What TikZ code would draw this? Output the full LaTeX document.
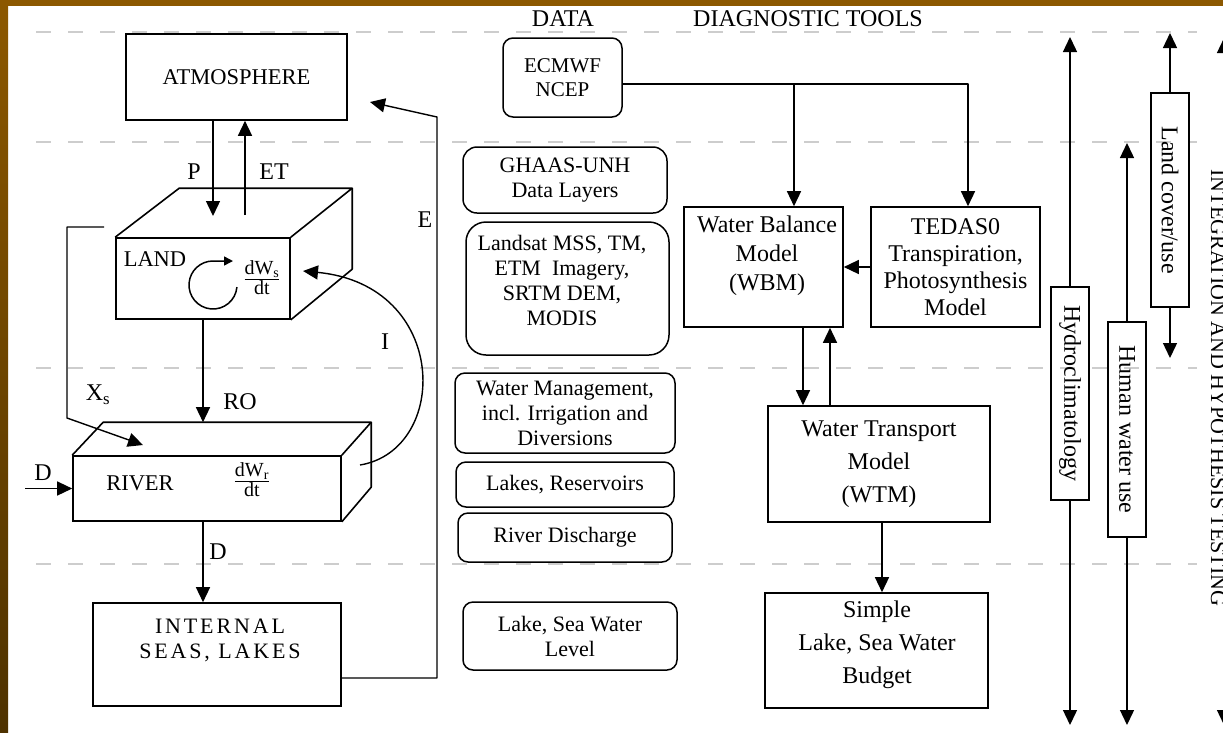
\documentclass[tikz,border=0pt]{standalone}
\usepackage{fontspec}
\setmainfont{Liberation Serif}
\newfontfamily\spacedfont[LetterSpace=13]{Liberation Serif}
\usetikzlibrary{arrows.meta,calc}
\definecolor{framebrown}{RGB}{140,88,0}
\definecolor{framedark}{RGB}{78,50,0}
\definecolor{dashgray}{RGB}{205,205,205}
\tikzset{
  ln/.style={line width=1.4pt},
  arr/.style={line width=1.4pt,-{Triangle[width=14pt,length=15pt]}},
  sarr/.style={line width=1.5pt,-{Triangle[width=9pt,length=9pt]}},
  sbox/.style={draw,line width=1.6pt,inner sep=0pt,align=center},
  rbox/.style={draw,line width=1.5pt,rounded corners=10pt,inner sep=0pt,align=center,font=\fontsize{22}{25}\selectfont},
  lbl/.style={inner sep=0pt,font=\fontsize{24}{28}\selectfont},
  head/.style={inner sep=0pt,font=\fontsize{24}{28}\selectfont},
  boxcaption/.style={inner sep=0pt,align=center,font=\fontsize{22.5}{25}\selectfont},
  dfont/.style={inner sep=0pt,align=center,font=\fontsize{24}{29}\selectfont},
  vbox/.style={draw,line width=1.6pt,inner sep=0pt,rotate=-90,minimum height=38pt,font=\fontsize{24}{28}\selectfont},
  dashline/.style={draw=dashgray,line width=1.6pt,dash pattern=on 15pt off 17pt},
  face/.style={line width=1.6pt,line join=round}
}
\begin{document}
\begin{tikzpicture}[x=1pt,y=-1pt]
\useasboundingbox (0,0) rectangle (1223,732);
\clip (0,0) rectangle (1223,732);
\fill[white] (0,0) rectangle (1223,732);
\fill[framebrown] (0,0) rectangle (1223,6);
\shade[top color=framebrown,bottom color=framedark] (0,0) rectangle (8,732);

% dashed separators
\foreach \yy in {32,142,368,564} \draw[dashline] (36,\yy) -- (1197,\yy);

% headings
\node[head] (data) at (563,19) {DATA};
\node[head] (diag) at (808,19) {DIAGNOSTIC TOOLS};

% ---------- left: water cycle ----------
\node[sbox,minimum width=221pt,minimum height=86pt,font=\fontsize{22.5}{25}\selectfont] (atm) at (236.5,77) {ATMOSPHERE};

% LAND box (3D)
\node[sbox,minimum width=174pt,minimum height=81pt] (land) at (203,278.5) {};
\draw[face] (land.north west) -- ++(64,-49) -- ++(173,0) coordinate (landbr) -- (land.north east);
\draw[face] (landbr) -- ++(0,81) -- (land.south east);
\node[boxcaption] (landlbl) at (155,259) {LAND};
\node[inner sep=0pt,align=center,font=\fontsize{20}{20}\selectfont] (dws) at (262,278) {\underline{dW\textsubscript{s}}\\dt};
\draw[sarr] (213,285) ++(5:24) arc[start angle=5,end angle=270,radius=24] -- ++(20,0);

% RIVER box (3D)
\node[sbox,minimum width=268pt,minimum height=65pt] (river) at (207,488.5) {};
\draw[face] (river.north west) -- ++(31,-33) -- ++(268,0) coordinate (riverbr) -- (river.north east);
\draw[face] (riverbr) -- ++(0,65) -- (river.south east);
\node[boxcaption] (riverlbl) at (140,483) {RIVER};
\node[inner sep=0pt,align=center,font=\fontsize{20}{20}\selectfont] (dwr) at (252,480) {\underline{dW\textsubscript{r}}\\dt};

% INTERNAL SEAS
\node[sbox,minimum width=248pt,minimum height=103pt] (seas) at (217,654.5) {};
\node[inner sep=0pt,align=center,font=\fontsize{22}{25}\spacedfont] (seaslbl) at (220,640) {INTERNAL\\SEAS, LAKES};

% P and ET
\coordinate (pTip) at (213,216);
\coordinate (etBase) at (245,215);
\draw[arr] (atm.south -| pTip) -- (pTip);
\draw[arr] (etBase) -- (atm.south -| etBase);
\node[lbl] (plbl) at (194,172) {P};
\node[lbl] (etlbl) at (274,172) {ET};

% RO
\draw[arr] (land.south) -- (land.south |- riverbr);
\node[lbl] (rolbl) at (240,402) {RO};

% X_s
\coordinate (xs0) at (104,227);
\coordinate (xs1) at (67,227);
\coordinate (xs2) at (67,418);
\coordinate (xsTip) at (143,445);
\draw[arr,line join=round] (xs0) -- (xs1) -- (xs2) -- (xsTip);
\node[lbl] (xslbl) at (98,395) {X\textsubscript{s}};

% I
\coordinate (iStart) at (360,465);
\coordinate (iTip) at (303,271);
\draw[arr] (iStart) .. controls (450,450) and (450,285) .. (iTip);
\node[lbl] (ilbl) at (385,342) {I};

% D in and D down
\coordinate (dIn) at (25,488.5);
\draw[arr] (dIn) -- (river.west);
\node[lbl] (dinlbl) at (43,473) {D};
\draw[arr] (river.south -| land.south) -- (seas.north -| land.south);
\node[lbl] (ddownlbl) at (218,552) {D};

% E
\coordinate (eC1) at (437,678);
\coordinate (eC2) at (437,117);
\coordinate (eTip) at (370,102);
\draw[arr,line join=round] (seas.east |- eC1) -- (eC1) -- (eC2) -- (eTip);
\node[lbl] (elbl) at (425,220) {E};

% ---------- data column ----------
\node[rbox,minimum width=119pt,minimum height=79pt,font=\fontsize{21}{24}\selectfont] (ecmwf) at (562.5,77.5) {ECMWF\\NCEP};
\node[rbox,rounded corners=14pt,minimum width=204pt,minimum height=66pt] (ghaas) at (565,180) {GHAAS-UNH\\Data Layers};
\node[rbox,rounded corners=20pt,minimum width=203pt,minimum height=133pt] (landsat) at (567.5,288.5) {};
\node[inner sep=0pt,align=center,font=\fontsize{22}{25}\selectfont] (landsattxt) at (562,280) {Landsat MSS, TM,\\ETM\ \ Imagery,\\SRTM DEM,\\MODIS};
\node[rbox,minimum width=220pt,minimum height=80pt] (wm) at (565,413) {Water Management,\\incl. Irrigation and\\Diversions};
\node[rbox,minimum width=218pt,minimum height=45pt] (lakes) at (565,484.5) {Lakes, Reservoirs};
\node[rbox,minimum width=214pt,minimum height=49pt] (rd) at (565,537.5) {River Discharge};
\node[rbox,minimum width=214pt,minimum height=68pt] (lsl) at (570,636) {Lake, Sea Water\\Level};

% ---------- diagnostic tools ----------
\node[sbox,minimum width=159pt,minimum height=120pt] (wbm) at (763.5,267) {};
\node[dfont] (wbmtxt) at (767,256) {Water Balance\\Model\\(WBM)};
\node[sbox,minimum width=169pt,minimum height=120pt,font=\fontsize{24}{27}\selectfont] (tedas) at (955.5,267) {TEDAS0\\Transpiration,\\Photosynthesis\\Model};
\node[sbox,minimum width=222pt,minimum height=116pt,font=\fontsize{24}{33}\selectfont] (wtm) at (879,464) {Water Transport\\Model\\(WTM)};
\node[sbox,minimum width=223pt,minimum height=115pt] (simple) at (876.5,650.5) {};
\node[inner sep=0pt,align=center,font=\fontsize{24}{33}\selectfont] (simpletxt) at (877,645) {Simple\\Lake, Sea Water\\Budget};

\coordinate (j1) at (794,84);
\coordinate (j2) at (968,84);
\draw[arr,line join=round] (ecmwf.east |- j1) -- (j2) -- (j2 |- tedas.north);
\draw[arr] (j1) -- (j1 |- wbm.north);
\draw[arr] (tedas.west) -- (wbm.east);
\coordinate (c803) at (803,0);
\coordinate (c830) at (830,0);
\coordinate (c882) at (882,0);
\draw[arr] (wbm.south -| c803) -- (wtm.north -| c803);
\draw[arr] (wtm.north -| c830) -- (wbm.south -| c830);
\draw[arr] (wtm.south -| c882) -- (simple.north -| c882);

% ---------- right: scales ----------
\node[vbox,minimum width=213pt] (hydro) at (1070,393.5) {Hydroclimatology};
\coordinate (hTop) at (1070,37);
\coordinate (hBot) at (1070,725);
\draw[arr] (hydro.west) -- (hTop);
\draw[arr] (hydro.east) -- (hBot);

\node[vbox,minimum width=215pt] (human) at (1127,429.5) {Human water use};
\coordinate (huTop) at (1127,143);
\coordinate (huBot) at (1127,725);
\draw[arr] (human.west) -- (huTop);
\draw[arr] (human.east) -- (huBot);

\node[vbox,minimum width=214pt] (landuse) at (1170,200) {Land cover/use};
\coordinate (luTop) at (1170,33);
\coordinate (luBot) at (1170,358);
\draw[arr] (landuse.west) -- (luTop);
\draw[arr] (landuse.east) -- (luBot);

\node[rotate=-90,anchor=base,inner sep=0pt,font=\fontsize{22}{24}\selectfont] (integ) at (1211,388) {INTEGRATION AND HYPOTHESIS TESTING};
\coordinate (rTop) at (1224,38);
\coordinate (rBot) at (1224,725);
\draw[arr] (integ.west -| rTop) -- (rTop);
\draw[arr] (integ.east -| rBot) -- (rBot);
\end{tikzpicture}
\end{document}
